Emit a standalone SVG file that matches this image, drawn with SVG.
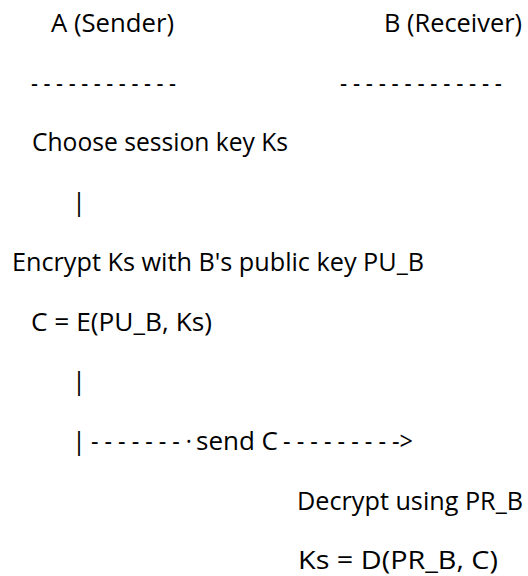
<svg xmlns="http://www.w3.org/2000/svg" width="528" height="576" viewBox="0 0 528 576">
  <style>
    text { font-family: "Open Sans", "Noto Sans", "Liberation Sans", sans-serif; font-size: 25.5px; fill: #000; }
    .bar { text-anchor: middle; }
  </style>
  <rect width="528" height="576" fill="#fff"/>

  <!-- column headers -->
  <g id="sender-header">
    <text x="51" y="32" textLength="123" lengthAdjust="spacingAndGlyphs">A (Sender)</text>
    <text x="31" y="91.7" textLength="145" lengthAdjust="spacingAndGlyphs">- - - - - - - - - - - -</text>
  </g>
  <g id="receiver-header">
    <text x="384" y="32" textLength="138" lengthAdjust="spacingAndGlyphs">B (Receiver)</text>
    <text x="340" y="91.7" textLength="162" lengthAdjust="spacingAndGlyphs">- - - - - - - - - - - - -</text>
  </g>

  <!-- sender steps -->
  <g id="choose-key">
    <text x="32" y="151.4" textLength="256" lengthAdjust="spacingAndGlyphs">Choose session key Ks</text>
  </g>
  <g id="encrypt-key">
    <text x="12" y="270.8" textLength="412" lengthAdjust="spacingAndGlyphs">Encrypt Ks with B's public key PU_B</text>
  </g>
  <g id="ciphertext">
    <text x="31" y="330.5" textLength="181" lengthAdjust="spacingAndGlyphs">C = E(PU_B, Ks)</text>
  </g>

  <!-- receiver steps -->
  <g id="decrypt">
    <text x="297" y="509.6" textLength="226" lengthAdjust="spacingAndGlyphs">Decrypt using PR_B</text>
  </g>
  <g id="recovered-key">
    <text x="298" y="569.3" textLength="200" lengthAdjust="spacingAndGlyphs">Ks = D(PR_B, C)</text>
  </g>

  <!-- flow marks and the message arrow -->
  <g id="connectors">
    <text class="bar" x="79" y="211.1">|</text>
    <text class="bar" x="79" y="390.2">|</text>
    <text class="bar" x="79" y="449.9">|</text>
    <text x="91" y="449.9" textLength="101" lengthAdjust="spacingAndGlyphs">- - - - - - - ·</text>
    <text x="196" y="449.9" textLength="82" lengthAdjust="spacingAndGlyphs">send C</text>
    <text x="283" y="449.9" textLength="130" lengthAdjust="spacingAndGlyphs">- - - - - - - - -&gt;</text>
  </g>
</svg>
